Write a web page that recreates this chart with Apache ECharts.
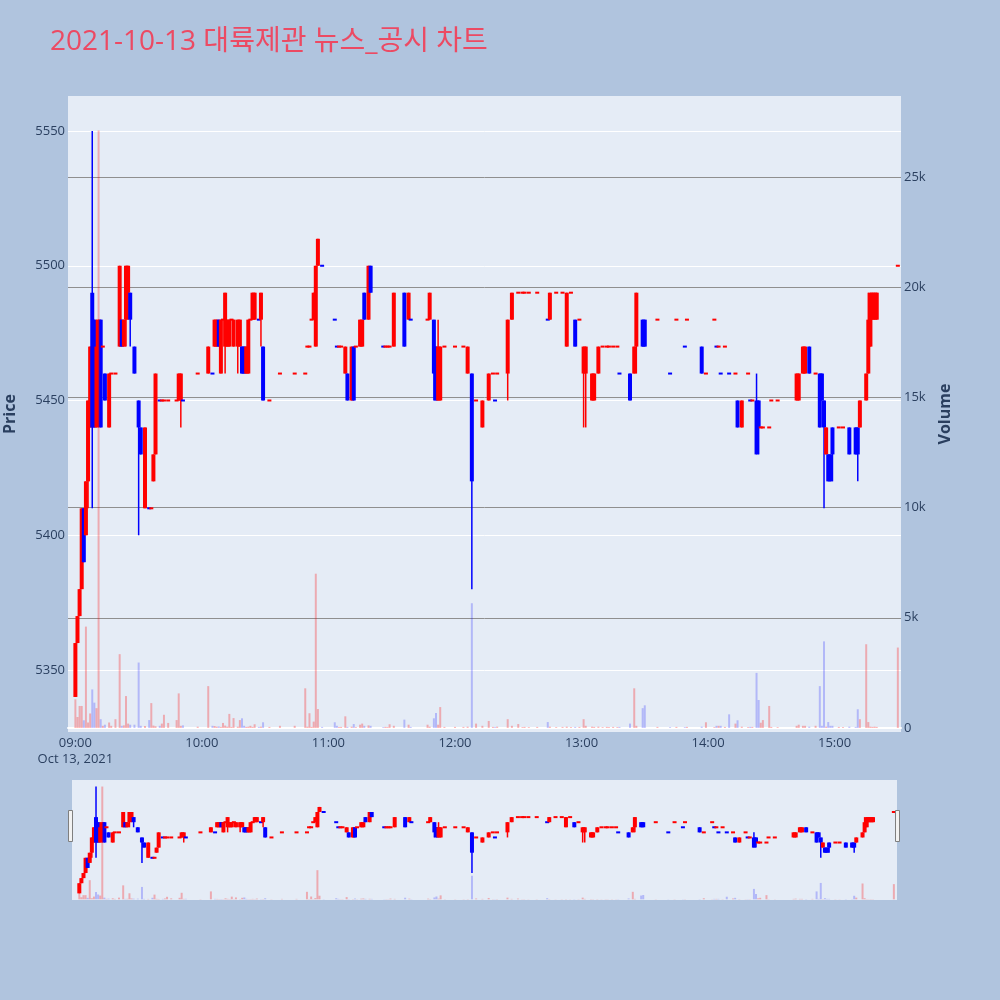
<!DOCTYPE html>
<html><head><meta charset="utf-8">
<script src="https://cdn.jsdelivr.net/npm/echarts@6/dist/echarts.min.js"></script>
<style>html,body{margin:0;padding:0;background:#b0c4de;}#c{width:1000px;height:1000px;}</style>
</head><body><div id="c"></div>
<script>
const titleText = '2021-10-13 대륙제관 뉴스_공시 차트';
const times = [
'09:00','09:01','09:02','09:03','09:04','09:05','09:06','09:07','09:08','09:09',
'09:10','09:11','09:12','09:13','09:14','09:16','09:17','09:19','09:21','09:22',
'09:23','09:24','09:25','09:26','09:28','09:30','09:31','09:33','09:35','09:36',
'09:37','09:38','09:40','09:41','09:42','09:44','09:48','09:49','09:50','09:51',
'09:58','10:03','10:05','10:06','10:07','10:08','10:09','10:10','10:11','10:12',
'10:13','10:14','10:15','10:17','10:18','10:19','10:20','10:21','10:22','10:23',
'10:24','10:25','10:27','10:28','10:29','10:32','10:37','10:44','10:49','10:50',
'10:51','10:52','10:53','10:54','10:55','10:57','11:03','11:04','11:05','11:06',
'11:08','11:09','11:11','11:12','11:13','11:15','11:16','11:17','11:19','11:20',
'11:26','11:27','11:28','11:29','11:31','11:36','11:38','11:39','11:47','11:48',
'11:50','11:51','11:52','11:53','11:55','12:00','12:04','12:06','12:08','12:10',
'12:13','12:16','12:18','12:19','12:20','12:25','12:27','12:30','12:32','12:33',
'12:35','12:39','12:44','12:45','12:48','12:51','12:53','12:55','12:57','12:59',
'13:01','13:02','13:05','13:06','13:08','13:10','13:12','13:13','13:15','13:17',
'13:18','13:23','13:25','13:26','13:29','13:30','13:36','13:42','13:45','13:49',
'13:50','13:57','13:59','14:03','14:04','14:05','14:06','14:08','14:10','14:13',
'14:14','14:16','14:19','14:20','14:21','14:23','14:24','14:25','14:26','14:29',
'14:30','14:33','14:42','14:43','14:45','14:46','14:48','14:51','14:53','14:54',
'14:55','14:56','14:57','14:58','14:59','15:02','15:04','15:07','15:10','15:11',
'15:12','15:15','15:16','15:17','15:18','15:19','15:20','15:30'];
const open = [
5340,5360,5370,5380,5410,5400,5420,5440,5490,5480,
5440,5450,5480,5470,5460,5440,5460,5460,5470,5480,
5470,5480,5490,5490,5470,5450,5440,5410,5410,5410,
5420,5430,5450,5450,5450,5450,5450,5450,5450,5450,
5460,5460,5460,5470,5470,5480,5460,5480,5470,5470,
5470,5480,5470,5470,5470,5470,5470,5460,5460,5480,
5480,5480,5480,5480,5470,5450,5460,5460,5460,5470,
5470,5480,5480,5470,5500,5500,5480,5470,5470,5470,
5460,5460,5450,5470,5470,5470,5470,5490,5480,5500,
5470,5470,5470,5470,5470,5490,5480,5480,5480,5480,
5480,5470,5450,5450,5470,5470,5470,5460,5460,5450,
5440,5450,5460,5450,5460,5460,5480,5490,5490,5490,
5490,5490,5480,5480,5490,5490,5470,5490,5480,5480,
5460,5460,5450,5450,5460,5470,5470,5470,5470,5470,
5460,5460,5460,5470,5480,5480,5480,5460,5480,5470,
5480,5470,5460,5480,5470,5470,5460,5470,5460,5460,
5450,5440,5460,5450,5450,5450,5450,5440,5440,5440,
5450,5450,5450,5450,5460,5460,5470,5460,5460,5460,
5450,5430,5430,5430,5440,5440,5440,5440,5440,5440,
5440,5450,5460,5470,5480,5480,5480,5500];
const close = [
5360,5370,5380,5410,5390,5420,5450,5470,5440,5440,
5470,5480,5440,5470,5450,5460,5460,5460,5500,5470,
5480,5500,5500,5480,5460,5440,5430,5440,5410,5410,
5430,5460,5450,5450,5450,5450,5450,5460,5460,5450,
5460,5470,5460,5480,5480,5470,5480,5480,5490,5480,
5480,5480,5480,5480,5480,5460,5460,5470,5480,5480,
5490,5490,5480,5490,5450,5450,5460,5460,5460,5470,
5470,5480,5490,5500,5510,5500,5480,5470,5470,5470,
5470,5450,5470,5450,5470,5480,5480,5480,5500,5490,
5470,5470,5470,5470,5490,5470,5490,5480,5480,5490,
5460,5450,5470,5470,5470,5470,5470,5470,5420,5450,
5450,5460,5460,5450,5460,5480,5490,5490,5490,5490,
5490,5490,5480,5490,5490,5490,5490,5490,5470,5480,
5470,5470,5460,5460,5470,5470,5470,5470,5470,5470,
5460,5450,5470,5490,5470,5470,5480,5460,5480,5470,
5480,5460,5460,5480,5470,5470,5460,5470,5460,5460,
5440,5450,5460,5450,5450,5430,5440,5440,5440,5440,
5450,5450,5460,5460,5470,5470,5460,5460,5440,5450,
5440,5440,5420,5420,5430,5440,5440,5430,5430,5430,
5450,5460,5480,5490,5490,5490,5490,5500];
const low = [
5340,5360,5370,5380,5390,5400,5410,5440,5410,5440,
5440,5440,5440,5470,5450,5440,5460,5460,5470,5470,
5470,5470,5480,5470,5460,5400,5430,5410,5410,5410,
5420,5430,5450,5450,5450,5450,5450,5450,5440,5450,
5460,5460,5460,5470,5470,5470,5460,5480,5460,5470,
5470,5480,5470,5460,5470,5460,5460,5460,5460,5480,
5480,5480,5480,5470,5450,5450,5460,5460,5460,5470,
5470,5480,5480,5470,5500,5500,5480,5470,5470,5470,
5460,5450,5450,5450,5470,5470,5470,5480,5480,5490,
5470,5470,5470,5470,5470,5470,5480,5480,5480,5480,
5450,5450,5450,5450,5470,5470,5470,5460,5380,5450,
5440,5450,5460,5450,5460,5450,5480,5490,5490,5490,
5490,5490,5480,5480,5490,5490,5470,5490,5470,5480,
5440,5440,5450,5450,5460,5470,5470,5470,5470,5470,
5460,5450,5460,5460,5470,5470,5480,5460,5480,5470,
5480,5460,5460,5480,5470,5470,5460,5470,5460,5460,
5440,5440,5460,5450,5450,5430,5430,5440,5440,5440,
5450,5450,5450,5450,5460,5460,5460,5460,5440,5450,
5410,5430,5420,5420,5420,5440,5440,5430,5430,5420,
5440,5450,5460,5470,5480,5480,5480,5500];
const high = [
5360,5370,5380,5410,5410,5420,5450,5470,5550,5480,
5480,5480,5480,5470,5460,5460,5460,5460,5500,5480,
5480,5500,5500,5490,5470,5450,5440,5440,5410,5410,
5430,5460,5450,5450,5450,5450,5450,5460,5460,5450,
5460,5470,5460,5480,5480,5480,5480,5480,5490,5480,
5480,5480,5480,5480,5480,5470,5470,5470,5480,5480,
5490,5490,5480,5490,5470,5450,5460,5460,5460,5470,
5470,5480,5490,5500,5510,5500,5480,5470,5470,5470,
5470,5460,5470,5470,5470,5480,5480,5490,5500,5500,
5470,5470,5470,5470,5490,5490,5490,5480,5480,5490,
5480,5470,5480,5470,5470,5470,5470,5470,5460,5450,
5450,5460,5460,5450,5460,5480,5490,5490,5490,5490,
5490,5490,5480,5490,5490,5490,5490,5490,5480,5480,
5470,5470,5460,5460,5470,5470,5470,5470,5470,5470,
5460,5460,5470,5490,5480,5480,5480,5460,5480,5470,
5480,5470,5460,5480,5470,5470,5460,5470,5460,5460,
5450,5450,5460,5450,5450,5460,5450,5440,5440,5440,
5450,5450,5460,5460,5470,5470,5470,5460,5460,5460,
5450,5440,5430,5430,5440,5440,5440,5440,5440,5440,
5450,5460,5490,5490,5490,5490,5490,5500];
const volume = [
1300,500,1000,1000,350,4600,250,660,1750,1150,
900,27100,400,100,150,250,100,400,3350,100,
120,1450,200,150,150,2970,100,90,360,1130,
110,80,100,200,600,230,360,1570,100,120,
60,1900,100,90,60,70,50,230,110,60,
640,50,450,60,360,440,100,50,60,100,
50,170,50,60,260,50,100,100,1800,60,
670,50,290,7000,860,50,260,100,40,50,
530,50,60,180,40,150,200,100,120,100,
40,50,40,170,100,380,150,50,150,60,
440,680,150,950,50,50,50,60,5660,200,
100,320,50,40,60,400,100,180,40,50,
40,50,270,60,40,50,60,40,50,50,
400,100,60,50,60,40,50,40,50,40,
50,200,1800,100,900,1030,50,40,50,40,
50,60,260,40,100,100,100,50,620,200,
350,60,40,50,50,2500,1270,240,360,1000,
50,40,100,150,100,100,60,100,1900,100,
3930,60,270,100,100,50,40,60,50,850,
400,3800,270,60,50,60,50,3650];
const priceTicks = {min: 5350, max: 5550, step: 50};
const volTicks = {min: 0, step: 5000};

// minute categories of the session axis (08:57 .. 15:31)
const cats = [];
for (let m = 537; m <= 931; m++) {
  cats.push(String(Math.floor(m / 60)).padStart(2, '0') + ':' + String(m % 60).padStart(2, '0'));
}
const sign = times.map((t, i) => close[i] > open[i] ? 1 : close[i] < open[i] ? -1 : (i === 0 || close[i - 1] <= close[i] ? 1 : -1));
const candles = times.map((t, i) => [t, open[i], close[i], low[i], high[i], sign[i]]);
const vols = times.map((t, i) => ({value: [t, volume[i]], itemStyle: {color: sign[i] > 0 ? 'rgba(255,0,0,0.28)' : 'rgba(0,0,255,0.22)'}}));

const FONT = '"Open Sans", "Noto Sans CJK KR", sans-serif';
const TXT = '#2a3f5f';
const GRIDC = '#8f8f8f';
const VOL_MAX = 28670;
const UP = '#ff0000', DOWN = '#0000ff';

function renderCandle(params, api) {
  const xi = api.value(0);
  const pO = api.coord([xi, api.value(1)]);
  const pC = api.coord([xi, api.value(2)]);
  const pL = api.coord([xi, api.value(3)]);
  const pH = api.coord([xi, api.value(4)]);
  const col = api.value(5) > 0 ? UP : DOWN;
  const bw = 4;
  let y0 = Math.min(pO[1], pC[1]);
  let h = Math.abs(pO[1] - pC[1]);
  if (h < 2) { y0 -= (2 - h) / 2; h = 2; }
  return {type: 'group', children: [
    {type: 'line', shape: {x1: pO[0], y1: pL[1], x2: pO[0], y2: pH[1]}, style: {stroke: col, lineWidth: 1.5}},
    {type: 'rect', shape: {x: pO[0] - bw / 2, y: y0, width: bw, height: h}, style: {fill: col}}
  ]};
}

const chart = echarts.init(document.getElementById('c'), null, {renderer: 'canvas', width: 1000, height: 1000});
const hiddenX = (g) => ({type: 'category', gridIndex: g, data: cats, boundaryGap: true, show: false});
chart.setOption({
  backgroundColor: '#b0c4de',
  animation: false,
  textStyle: {fontFamily: FONT},
  title: {text: titleText, left: 45, top: 23, textStyle: {fontSize: 28, fontWeight: 'normal', color: '#ec4a63', fontFamily: FONT}},
  graphic: [
    {type: 'rect', z: -100, shape: {x: 68, y: 96, width: 833, height: 636}, style: {fill: '#e5ecf6'}},
    {type: 'rect', z: -100, shape: {x: 72, y: 780, width: 825, height: 120}, style: {fill: '#e5ecf6'}},
    {type: 'rect', z: 100, shape: {x: 68.5, y: 810.5, width: 4, height: 31}, style: {fill: '#f2f2f2', stroke: '#7f7f7f', lineWidth: 1}},
    {type: 'rect', z: 100, shape: {x: 895.5, y: 810.5, width: 4, height: 31}, style: {fill: '#f2f2f2', stroke: '#7f7f7f', lineWidth: 1}},
    {type: 'text', x: 10, y: 414, rotation: Math.PI / 2, style: {text: 'Price', fill: TXT, font: 'bold 16px "Open Sans", sans-serif', align: 'center', verticalAlign: 'middle'}},
    {type: 'text', x: 945, y: 414, rotation: Math.PI / 2, style: {text: 'Volume', fill: TXT, font: 'bold 16px "Open Sans", sans-serif', align: 'center', verticalAlign: 'middle'}}
  ],
  grid: [
    {left: 68, width: 833, top: 131, height: 539},
    {left: 68, width: 833, top: 96, height: 632},
    {left: 72, width: 825, top: 786.6, height: 101.7},
    {left: 72, width: 825, top: 780, height: 119.3}
  ],
  xAxis: [
    hiddenX(0),
    {type: 'category', gridIndex: 1, data: cats, boundaryGap: true,
     axisLine: {show: true, lineStyle: {color: '#ffffff', width: 2}},
     axisTick: {show: false},
     splitLine: {show: false},
     axisLabel: {
       interval: (idx, val) => val.endsWith(':00'),
       margin: 7, color: TXT, fontSize: 13, lineHeight: 16, fontFamily: FONT,
       formatter: (val) => val === '09:00' ? '09:00\nOct 13, 2021' : val
     }},
    hiddenX(2),
    hiddenX(3)
  ],
  yAxis: [
    {type: 'value', gridIndex: 0, position: 'left', min: priceTicks.min, max: priceTicks.max, interval: priceTicks.step,
     axisLine: {show: false}, axisTick: {show: false},
     axisLabel: {color: TXT, fontSize: 13, margin: 3, fontFamily: FONT, formatter: (v) => String(v)},
     splitLine: {show: true, lineStyle: {color: '#ffffff', width: 1}}},
    {type: 'value', gridIndex: 1, position: 'right', min: volTicks.min, max: VOL_MAX, interval: volTicks.step,
     axisLine: {show: false}, axisTick: {show: false},
     axisLabel: {color: TXT, fontSize: 13, margin: 3, fontFamily: FONT, showMaxLabel: false,
       formatter: (v) => v === 0 ? '0' : (v / 1000) + 'k'},
     splitLine: {show: true, lineStyle: {color: ['rgba(0,0,0,0)', GRIDC, GRIDC, GRIDC, GRIDC, GRIDC, 'rgba(0,0,0,0)'], width: 1}}},
    {type: 'value', gridIndex: 2, min: priceTicks.min, max: priceTicks.max, show: false, splitLine: {show: false}},
    {type: 'value', gridIndex: 3, min: volTicks.min, max: VOL_MAX, show: false, splitLine: {show: false}}
  ],
  series: [
    {type: 'custom', xAxisIndex: 0, yAxisIndex: 0, data: candles, encode: {x: 0, y: [1, 2, 3, 4]},
     renderItem: renderCandle, clip: false, z: 3},
    {type: 'bar', xAxisIndex: 1, yAxisIndex: 1, data: vols, encode: {x: 0, y: 1}, barWidth: 2, z: 4},
    {type: 'custom', xAxisIndex: 2, yAxisIndex: 2, data: candles, encode: {x: 0, y: [1, 2, 3, 4]},
     renderItem: renderCandle, clip: false, z: 3},
    {type: 'bar', xAxisIndex: 3, yAxisIndex: 3, data: vols, encode: {x: 0, y: 1}, barWidth: 2, z: 4}
  ]
});
</script>
</body></html>
